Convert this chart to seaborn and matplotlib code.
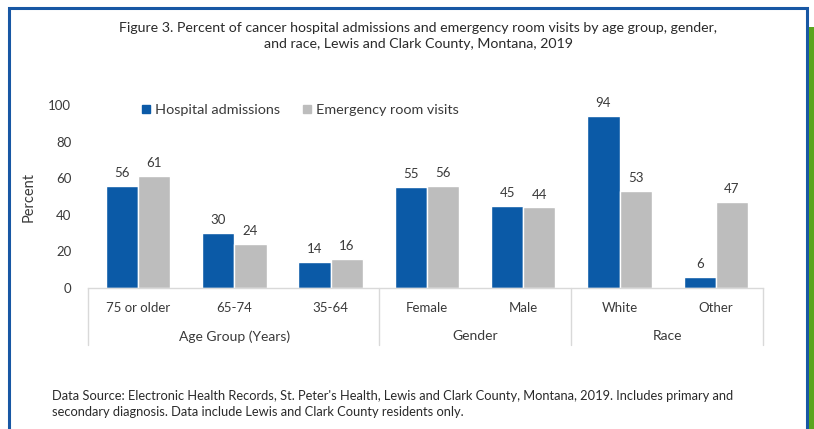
import numpy as np
import pandas as pd
import matplotlib
matplotlib.use("Agg")
import matplotlib.pyplot as plt
from matplotlib.patches import Rectangle, Patch
import seaborn as sns

# --- Data ---
categories = ["75 or older", "65-74", "35-64", "Female", "Male", "White", "Other"]
hospital = [56, 30, 14, 55, 45, 94, 6]
emergency = [61, 24, 16, 56, 44, 53, 47]
groups = ["Age Group (Years)", "Gender", "Race"]
group_sizes = [3, 2, 2]
series = ["Hospital admissions", "Emergency room visits"]

title = ("Figure 3. Percent of cancer hospital admissions and emergency room visits by age group, gender,\n"
         "and race, Lewis and Clark County, Montana, 2019")
footer = ("Data Source: Electronic Health Records, St. Peter's Health, Lewis and Clark County, Montana, 2019. Includes primary and\n"
          "secondary diagnosis. Data include Lewis and Clark County residents only.")

df = pd.DataFrame({
    "category": categories * 2,
    "series": [series[0]] * len(categories) + [series[1]] * len(categories),
    "value": hospital + emergency,
})

# --- Style ---
sns.set_theme(style="white")
plt.rcParams["font.family"] = ["Lato", "DejaVu Sans"]
TEXT = "#3a3a3a"
BLUE = "#0b5aa7"
GRAY = "#bdbdbd"
SEP = "#d9d9d9"

fig = plt.figure(figsize=(8.14, 4.29), dpi=100)
fig.patch.set_facecolor("white")
ax = fig.add_axes([88 / 814, 1 - 288 / 429, (763 - 88) / 814, (288 - 105) / 429])

sns.barplot(data=df, x="category", y="value", hue="series", order=categories,
            hue_order=series, palette=[BLUE, GRAY], width=0.67, saturation=1,
            ax=ax, legend=False)

for cont in ax.containers:
    ax.bar_label(cont, fmt="%d", padding=5, fontsize=9.5, color=TEXT)

ax.set_ylim(0, 100)
ax.set_xlim(-0.52, 6.49)
ax.set_yticks(range(0, 101, 20))
ax.tick_params(axis="y", length=0, pad=12, labelsize=9.5, labelcolor=TEXT)
ax.set_xticks([])
ax.set_xlabel("")
ax.set_ylabel("Percent", fontsize=10.5, color=TEXT, labelpad=9)
for s in ["top", "right", "left"]:
    ax.spines[s].set_visible(False)
ax.spines["bottom"].set_color(SEP)
ax.spines["bottom"].set_linewidth(1)

# category labels and group labels below axis
trans = ax.get_xaxis_transform()
for i, c in enumerate(categories):
    ax.text(i, -0.11, c, transform=trans, ha="center", va="center", fontsize=9.5, color=TEXT)
start = 0
bounds = [-0.52]
for g, n in zip(groups, group_sizes):
    mid = start + (n - 1) / 2
    ax.text(mid, -0.265, g, transform=trans, ha="center", va="center", fontsize=10, color=TEXT)
    start += n
    bounds.append(start - 0.5 if start < len(categories) else 6.49)
for b in bounds:
    ax.plot([b, b], [0, -0.31], transform=trans, color=SEP, lw=1, clip_on=False)

# legend
handles = [Patch(color=BLUE), Patch(color=GRAY)]
fig.legend(handles, series, loc="center left", bbox_to_anchor=(0.158, 1 - 110 / 429),
           ncol=2, frameon=False, fontsize=10.4, handlelength=0.55, handleheight=0.55,
           handletextpad=0.35, columnspacing=1.6, labelcolor=TEXT)

fig.text(0.514, 1 - 36 / 429, title, ha="center", va="center", fontsize=10.2,
         color="#2a2a2a", linespacing=1.45)
fig.text(52 / 814, 1 - 404 / 429, footer, ha="left", va="center", fontsize=9.3,
         color="#2a2a2a", linespacing=1.45)

# frame border and green side bar
fig.patches.append(Rectangle((9 / 814, -0.05), (807 - 9) / 814, 1.05 - 8 / 429,
                             transform=fig.transFigure, fill=False,
                             edgecolor="#1857a4", lw=2.2))
fig.patches.append(Rectangle((809 / 814, 0), 5 / 814, 1 - 27 / 429,
                             transform=fig.transFigure, color="#5aa51e", lw=0))

fig.savefig("out.png", dpi=100)
